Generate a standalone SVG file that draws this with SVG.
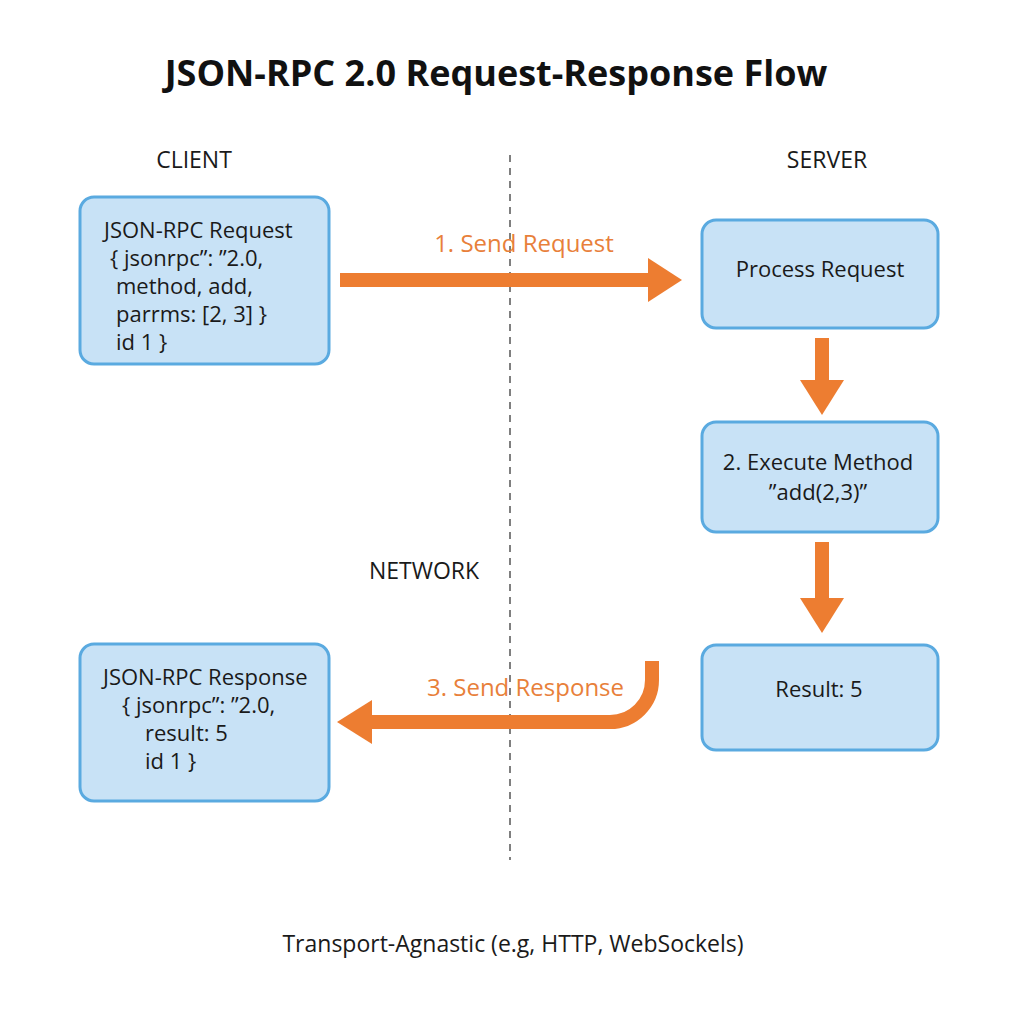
<svg xmlns="http://www.w3.org/2000/svg" width="1024" height="1024" viewBox="0 0 1024 1024">
<style>
.box{fill:#c8e2f6;stroke:#5aaae0;stroke-width:3}
.t{font-family:"Open Sans","Liberation Sans",sans-serif;font-size:22px;fill:#1a1a1a}
.l{font-size:23px}
.c{text-anchor:middle}
.o{font-family:"Open Sans","Liberation Sans",sans-serif;font-size:24px;fill:#e8803a}
.arr{fill:#ed7d31}
</style>
<rect width="1024" height="1024" fill="#ffffff"/>
<text x="496" y="86" class="t c" style="font-size:36px;font-weight:bold;fill:#111">JSON-RPC 2.0 Request-Response Flow</text>
<text x="194" y="168" class="t l c">CLIENT</text>
<text x="827" y="168" class="t l c">SERVER</text>
<text x="424" y="579" class="t l c">NETWORK</text>
<line x1="510" y1="155" x2="510" y2="860" stroke="#555" stroke-width="1.5" stroke-dasharray="7,6"/>

<g id="connectors">
<g id="c1"><rect x="340" y="273" width="310" height="14" class="arr"/><path d="M648,258 L682,280 L648,302 Z" class="arr"/>
<text x="524" y="252" class="o c">1. Send Request</text></g>
<g id="c2"><rect x="815" y="338" width="14" height="44" class="arr"/><path d="M800,380 L844,380 L822,415 Z" class="arr"/></g>
<g id="c3"><rect x="815" y="542" width="14" height="58" class="arr"/><path d="M800,598 L844,598 L822,633 Z" class="arr"/></g>
<g id="c4"><path d="M652,661 L652,680 A42,42 0 0 1 610,722 L370,722" fill="none" stroke="#ed7d31" stroke-width="14"/><path d="M372,700 L337,722 L372,744 Z" class="arr"/>
<text x="427" y="696" class="o">3. Send Response</text></g>
</g>

<g id="request">
<rect x="80" y="197" width="249" height="167" rx="14" class="box"/>
<text class="t"><tspan x="104" y="238">JSON-RPC Request</tspan><tspan x="110" y="266">{ jsonrpc”: ”2.0,</tspan><tspan x="116" y="294">method, add,</tspan><tspan x="116" y="322">parrms: [2, 3] }</tspan><tspan x="116" y="350">id 1 }</tspan></text>
</g>
<g id="process">
<rect x="702" y="220" width="236" height="108" rx="14" class="box"/>
<text x="820" y="277" class="t c">Process Request</text>
</g>
<g id="execute">
<rect x="702" y="422" width="236" height="110" rx="14" class="box"/>
<text x="818" y="470" class="t c">2. Execute Method</text>
<text x="818" y="500" class="t c">”add(2,3)”</text>
</g>
<g id="result">
<rect x="702" y="645" width="236" height="105" rx="14" class="box"/>
<text x="819" y="697" class="t c">Result: 5</text>
</g>
<g id="response">
<rect x="80" y="644" width="249" height="157" rx="14" class="box"/>
<text class="t"><tspan x="103" y="685">JSON-RPC Response</tspan><tspan x="122" y="713">{ jsonrpc”: ”2.0,</tspan><tspan x="145" y="741">result: 5</tspan><tspan x="145" y="769">id 1 }</tspan></text>
</g>
<text x="513" y="952" class="t l c">Transport-Agnastic (e.g, HTTP, WebSockels)</text>
</svg>
